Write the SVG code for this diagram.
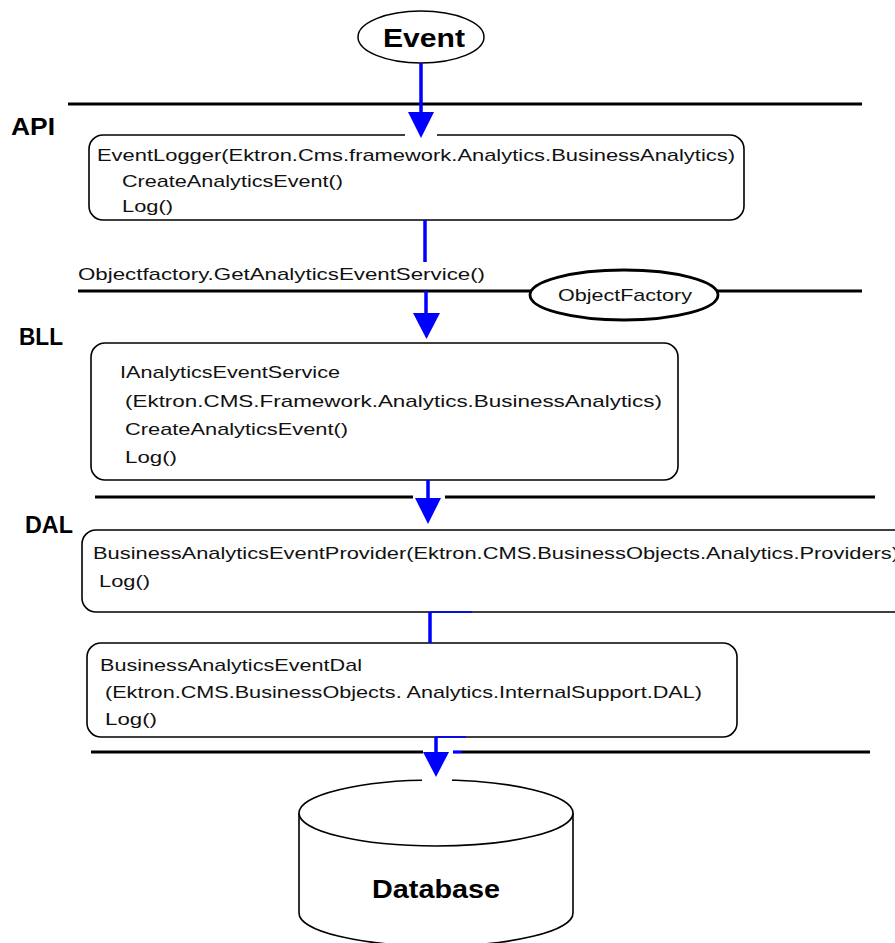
<svg xmlns="http://www.w3.org/2000/svg" width="895" height="943" viewBox="0 0 895 943">
<style>
.box{fill:#fff;stroke:#000;stroke-width:1.6}
.sep{stroke:#000;stroke-width:3.2;fill:none}
.t{font-family:"Liberation Sans",Arial,sans-serif;font-size:17px;fill:#111}
.lbl{font-family:"Liberation Sans",Arial,sans-serif;font-size:23px;font-weight:bold;fill:#000}
.blue{stroke:#0000ff;stroke-width:3.5;fill:none}
.arr{fill:#0000ff}
.gap{stroke:#fff;stroke-width:4}
</style>
<g id="separators">
<line class="sep" x1="68" y1="104" x2="862" y2="104"/>
<line class="sep" x1="78" y1="291" x2="862" y2="291"/>
<line class="sep" x1="95" y1="497" x2="413" y2="497"/>
<line class="sep" x1="445" y1="497" x2="875" y2="497"/>
<line class="sep" x1="91" y1="752" x2="423" y2="752"/>
<line class="sep" x1="462" y1="752" x2="870" y2="752"/>
</g>
<g id="layer-labels">
<text class="lbl" x="11" y="135" textLength="44" lengthAdjust="spacingAndGlyphs">API</text>
<text class="lbl" x="19" y="345" textLength="44" lengthAdjust="spacingAndGlyphs">BLL</text>
<text class="lbl" x="25" y="533" textLength="48" lengthAdjust="spacingAndGlyphs">DAL</text>
<text class="t" x="78" y="280" textLength="407" lengthAdjust="spacingAndGlyphs">Objectfactory.GetAnalyticsEventService()</text>
</g>
<g id="event">
<ellipse cx="421" cy="37" rx="63" ry="26" fill="#fff" stroke="#000" stroke-width="1.5"/>
<text x="383" y="47" font-family="Liberation Sans, Arial, sans-serif" font-size="26" font-weight="bold" textLength="82" lengthAdjust="spacingAndGlyphs">Event</text>
</g>
<g id="api-box">
<rect class="box" x="89" y="135" width="655" height="85" rx="14"/>
<text class="t" x="97" y="161" textLength="638" lengthAdjust="spacingAndGlyphs">EventLogger(Ektron.Cms.framework.Analytics.BusinessAnalytics)</text>
<text class="t" x="122" y="187" textLength="221" lengthAdjust="spacingAndGlyphs">CreateAnalyticsEvent()</text>
<text class="t" x="122" y="212" textLength="51" lengthAdjust="spacingAndGlyphs">Log()</text>
</g>
<g id="objectfactory">
<ellipse cx="624" cy="295" rx="94" ry="25" fill="#fff" stroke="#000" stroke-width="2.8"/>
<text class="t" x="558" y="301" textLength="134" lengthAdjust="spacingAndGlyphs">ObjectFactory</text>
</g>
<g id="bll-box">
<rect class="box" x="91" y="343" width="587" height="137" rx="14"/>
<text class="t" x="120" y="378" textLength="220" lengthAdjust="spacingAndGlyphs">IAnalyticsEventService</text>
<text class="t" x="125" y="407" textLength="537" lengthAdjust="spacingAndGlyphs">(Ektron.CMS.Framework.Analytics.BusinessAnalytics)</text>
<text class="t" x="125" y="435" textLength="223" lengthAdjust="spacingAndGlyphs">CreateAnalyticsEvent()</text>
<text class="t" x="125" y="463" textLength="52" lengthAdjust="spacingAndGlyphs">Log()</text>
</g>
<g id="provider-box">
<rect class="box" x="82" y="530" width="828" height="82" rx="14"/>
<text class="t" x="93" y="559" textLength="806" lengthAdjust="spacingAndGlyphs">BusinessAnalyticsEventProvider(Ektron.CMS.BusinessObjects.Analytics.Providers)</text>
<text class="t" x="99" y="587" textLength="51" lengthAdjust="spacingAndGlyphs">Log()</text>
</g>
<g id="dal-box">
<rect class="box" x="87" y="643" width="650" height="94" rx="14"/>
<text class="t" x="100" y="671" textLength="262" lengthAdjust="spacingAndGlyphs">BusinessAnalyticsEventDal</text>
<text class="t" x="105" y="698" textLength="597" lengthAdjust="spacingAndGlyphs">(Ektron.CMS.BusinessObjects. Analytics.InternalSupport.DAL)</text>
<text class="t" x="105" y="725" textLength="52" lengthAdjust="spacingAndGlyphs">Log()</text>
</g>
<g id="database">
<path d="M299 813 L299 913 A137 33 0 0 0 573 913 L573 813" fill="#fff" stroke="#000" stroke-width="1.6"/>
<ellipse cx="436" cy="813" rx="137" ry="33" fill="#fff" stroke="#000" stroke-width="1.6"/>
<line class="gap" x1="422" y1="780" x2="452" y2="780"/>
<text x="372" y="898" font-family="Liberation Sans, Arial, sans-serif" font-size="26" font-weight="bold" textLength="128" lengthAdjust="spacingAndGlyphs">Database</text>
</g>
<g id="connectors">
<line class="gap" x1="405" y1="135" x2="437" y2="135"/>
<line class="blue" x1="421" y1="63" x2="421" y2="114"/>
<polygon class="arr" points="408,112 434,112 421,138"/>
<line class="blue" x1="425" y1="220" x2="425" y2="262"/>
<line class="blue" x1="426" y1="291" x2="426" y2="315"/>
<polygon class="arr" points="413,313 440,313 426.5,339"/>
<line class="blue" x1="428" y1="480" x2="428" y2="500"/>
<polygon class="arr" points="415,498 441,498 428,524"/>
<line class="blue" x1="430" y1="612" x2="430" y2="643"/>
<line stroke="#0000ff" stroke-width="1.6" x1="430" y1="612" x2="472" y2="612"/>
<line stroke="#0000ff" stroke-width="1.6" x1="436" y1="737" x2="466" y2="737"/>
<line class="blue" x1="436" y1="737" x2="436" y2="754"/>
<line stroke="#0000ff" stroke-width="3.2" x1="453" y1="752" x2="462" y2="752"/>
<polygon class="arr" points="423,752 449,752 436,777"/>
</g>
</svg>
